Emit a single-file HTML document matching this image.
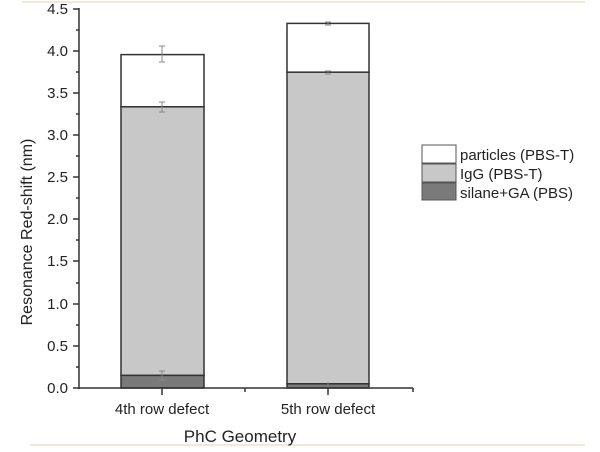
<!DOCTYPE html>
<html><head><style>body{margin:0;background:#fff}</style></head><body>
<svg width="600" height="447" xmlns="http://www.w3.org/2000/svg" font-family="Liberation Sans, sans-serif">
<rect width="600" height="447" fill="#fff"/>
<line x1="22" y1="2" x2="585" y2="2" stroke="#f5e6d6" stroke-width="2"/>
<line x1="30" y1="445" x2="585" y2="445" stroke="#f5e6d6" stroke-width="2"/>
<g stroke="#333" stroke-width="1.5">
<rect x="121" y="54.6" width="83" height="52.2" fill="#fff"/>
<rect x="121" y="106.8" width="83" height="268.6" fill="#c8c8c8"/>
<rect x="121" y="375.4" width="83" height="12.6" fill="#7a7a7a"/>
<rect x="287" y="23.4" width="82" height="48.8" fill="#fff"/>
<rect x="287" y="72.2" width="82" height="311.6" fill="#c8c8c8"/>
<rect x="287" y="383.8" width="82" height="4.2" fill="#7a7a7a"/>
</g>
<g stroke="#888" stroke-width="1">
<path d="M162 46v16M159 46h6M159 62h6"/>
<path d="M162 102v10M159 102h6M159 112h6"/>
<path d="M162 371v9M159 371h6M159 380h6"/>
<path d="M328 22v3M325 22h6M325 25h6M328 71v3M325 71h6M325 74h6M328 382v3"/>
</g>
<g stroke="#333" stroke-width="1.5" fill="none">
<path d="M79 8V389M78 388H413"/>
<path d="M73 9h6M73 51h6M73 93h6M73 135h6M73 177h6M73 219h6M73 261h6M73 304h6M73 346h6M73 388h6"/>
<path d="M76 30h3M76 72h3M76 114h3M76 156h3M76 198h3M76 240h3M76 283h3M76 325h3M76 367h3"/>
<path d="M162 388v7M328 388v7M245 388v4M413 388v4"/>
</g>
<g font-size="15" fill="#222" text-anchor="end">
<text x="68" y="14">4.5</text><text x="68" y="56">4.0</text><text x="68" y="98">3.5</text>
<text x="68" y="140">3.0</text><text x="68" y="182">2.5</text><text x="68" y="224">2.0</text>
<text x="68" y="266">1.5</text><text x="68" y="309">1.0</text><text x="68" y="351">0.5</text>
<text x="68" y="393">0.0</text>
</g>
<g font-size="15" fill="#222" text-anchor="middle">
<text x="162" y="414">4th row defect</text>
<text x="328" y="414">5th row defect</text>
<text x="240" y="442" font-size="17">PhC Geometry</text>
<text transform="translate(32,232) rotate(-90)" font-size="16">Resonance Red-shift (nm)</text>
</g>
<g stroke="#555" stroke-width="1">
<rect x="422" y="145" width="34" height="18" fill="#fff"/>
<rect x="422" y="164" width="34" height="18" fill="#c8c8c8"/>
<rect x="422" y="183" width="34" height="17" fill="#7a7a7a"/>
</g>
<g font-size="15" fill="#222">
<text x="460" y="160">particles (PBS-T)</text>
<text x="460" y="179">IgG (PBS-T)</text>
<text x="460" y="198">silane+GA (PBS)</text>
</g>
</svg>
</body></html>
